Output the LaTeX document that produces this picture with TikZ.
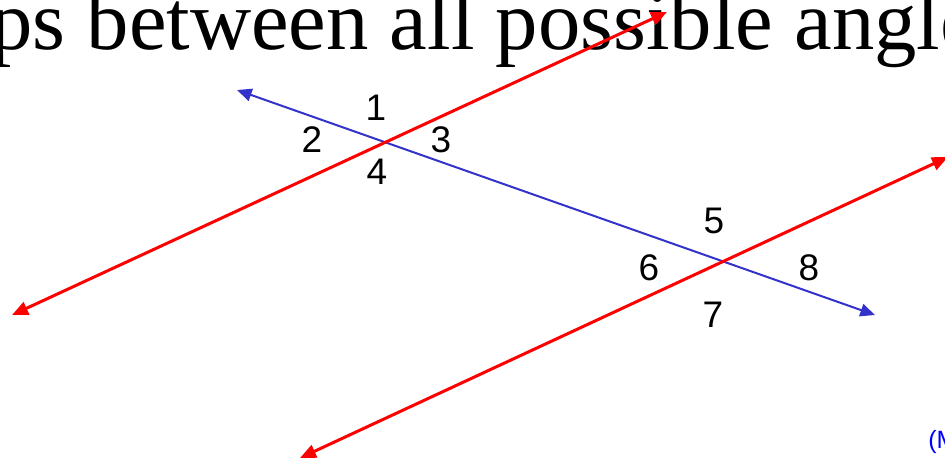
\documentclass[tikz,border=0pt]{standalone}
\usepackage{fontspec}
\setmainfont{Liberation Serif}
\newfontfamily\numfont{Liberation Sans}
\usetikzlibrary{arrows.meta}
\definecolor{Red}  {HTML}{FF0000}
\definecolor{Blue} {HTML}{3333CC}
\definecolor{Note} {HTML}{0000FF}
\tikzset{
  lbl/.style={inner sep=0pt, font=\numfont\fontsize{27.75}{30}\selectfont},
  redln/.style={{Triangle[length=12pt,width=10pt]}-{Triangle[length=12pt,width=10pt]},
                line width=2.25pt, color=Red},
  blueln/.style={{Triangle[length=11pt,width=9.5pt]}-{Triangle[length=11pt,width=9.5pt]},
                 line width=1.5pt, color=Blue}
}

\begin{document}
\begin{tikzpicture}[x=0.75pt, y=-0.75pt]
  \clip (0,0) rectangle (945,461);
  \node[anchor=base west, inner sep=0pt, font=\fontsize{63.5}{70}\selectfont] (title) at (-10,49) {ps between all possible angle};
  \node[anchor=base west, inner sep=0pt, text=Note, font=\numfont\fontsize{18.75}{20}\selectfont] (src) at (928,448) {(M};
  % transversal and the two parallels
  \coordinate (t1) at (237,90);  \coordinate (t2) at (875,315);
  \coordinate (p1) at (12,315);  \coordinate (p2) at (667,12);
  \coordinate (q1) at (300,458); \coordinate (q2) at (948,157);
  \draw[blueln] (t1) -- (t2);
  \draw[redln] (p1) -- (p2);
  \draw[redln] (q1) -- (q2);
  % angle numbers
  \node[lbl] (n1) at (376,108) {1};
  \node[lbl] (n2) at (312,140) {2};
  \node[lbl] (n3) at (441,140) {3};
  \node[lbl] (n4) at (377,172) {4};
  \node[lbl] (n5) at (714,221) {5};
  \node[lbl] (n6) at (649,268) {6};
  \node[lbl] (n7) at (713,315) {7};
  \node[lbl] (n8) at (809,268) {8};
\end{tikzpicture}
\end{document}
